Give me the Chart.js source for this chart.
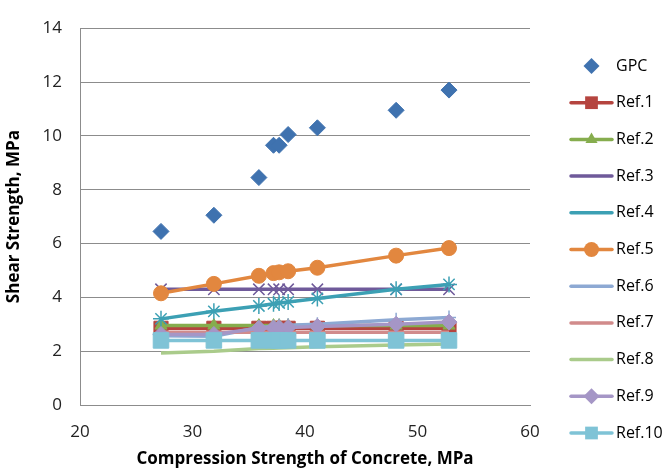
<!DOCTYPE html>
<html>
<head>
<meta charset="utf-8">
<script src="https://cdn.jsdelivr.net/npm/chart.js@4"></script>
<style>
  html, body { margin: 0; padding: 0; background: #fff; }
  #wrap { width: 671px; height: 473px; }
</style>
</head>
<body>
<div id="wrap"><canvas id="shearChart" width="671" height="473"></canvas></div>
<script>
// Compression strength of concrete (MPa) for each specimen
const strength = [27.2, 31.9, 35.9, 37.2, 37.7, 38.5, 41.1, 48.1, 52.8];

// Shear strength (MPa): test results and reference predictions
const gpc   = [6.45, 7.05, 8.45, 9.65, 9.65, 10.05, 10.3, 10.95, 11.7];
const ref1  = [2.85, 2.85, 2.85, 2.85, 2.85, 2.85, 2.85, 2.85, 2.85];
const ref2  = [2.95, 2.95, 2.95, 2.95, 2.95, 2.95, 2.95, 2.95, 2.95];
const ref3  = [4.3, 4.3, 4.3, 4.3, 4.3, 4.3, 4.3, 4.3, 4.3];
const ref4  = [3.2, 3.48, 3.68, 3.76, 3.79, 3.83, 3.96, 4.3, 4.48];
const ref5  = [4.15, 4.5, 4.8, 4.9, 4.93, 4.97, 5.1, 5.55, 5.83];
const ref6  = [2.57, 2.55, 2.88, 2.92, 2.94, 2.96, 3.0, 3.17, 3.25];
const ref7  = [2.7, 2.7, 2.7, 2.7, 2.7, 2.7, 2.7, 2.7, 2.7];
const ref8  = [1.93, 2.0, 2.1, 2.11, 2.12, 2.13, 2.16, 2.23, 2.27];
const ref9  = [2.62, 2.62, 2.85, 2.86, 2.87, 2.88, 2.92, 3.0, 3.08];
const ref10 = [2.4, 2.4, 2.4, 2.4, 2.4, 2.4, 2.4, 2.4, 2.4];

const yTicks = [0, 2, 4, 6, 8, 10, 12, 14];
const xTicks = [20, 30, 40, 50, 60];

const FONT = '"Open Sans", "Noto Sans", sans-serif';

function pts(ys) {
    return strength.map((x, i) => ({ x: x, y: ys[i] }));
}

// name, values, colour, marker, marker radius, line?
const seriesDefs = [
    ['GPC',    gpc,   '#3F72AF', 'rectRot',  8,   false],
    ['Ref.1',  ref1,  '#B5443F', 'rect',     10,  true],
    ['Ref.2',  ref2,  '#86AD4E', 'triangle', 7,   true],
    ['Ref.3',  ref3,  '#6F5A9A', 'crossRot', 8,   true],
    ['Ref.4',  ref4,  '#3CA0B4', 'star',     8,   true],
    ['Ref.5',  ref5,  '#E2873F', 'circle',   7.5, true],
    ['Ref.6',  ref6,  '#8DA9D3', 'cross',    7,   true],
    ['Ref.7',  ref7,  '#D18B8B', false,      0,   true],
    ['Ref.8',  ref8,  '#AACB8B', false,      0,   true],
    ['Ref.9',  ref9,  '#A596C6', 'rectRot',  8,   true],
    ['Ref.10', ref10, '#7FC3D6', 'rect',     11,  true]
];

const thin = (m) => m === 'crossRot' || m === 'star' || m === 'cross';

const datasets = seriesDefs.map((s, i) => ({
    label: s[0],
    data: pts(s[1]),
    showLine: s[5],
    borderColor: s[2],
    backgroundColor: s[2],
    borderWidth: 3.5,
    pointStyle: s[3] || 'circle',
    pointRadius: s[3] ? s[4] : 0,
    pointBorderWidth: thin(s[3]) ? 1.5 : 1,
    pointHoverRadius: s[3] ? s[4] : 0,
    order: seriesDefs.length - i
}));

// Excel-like legend: short line with marker in the middle
const sideLegend = {
    id: 'sideLegend',
    afterDraw(chart) {
        const ctx = chart.ctx;
        const x0 = 571, x1 = 612, top = 66, step = 36.7;
        ctx.save();
        seriesDefs.forEach((s, i) => {
            const y = top + i * step;
            if (s[5]) {
                ctx.strokeStyle = s[2];
                ctx.lineWidth = 3.5;
                ctx.lineCap = 'round';
                ctx.beginPath();
                ctx.moveTo(x0, y);
                ctx.lineTo(x1, y);
                ctx.stroke();
            }
            if (s[3]) {
                ctx.fillStyle = s[2];
                ctx.strokeStyle = s[2];
                ctx.lineWidth = thin(s[3]) ? 1.5 : 1;
                Chart.helpers.drawPoint(ctx, { pointStyle: s[3], radius: Math.min(s[4], 9), rotation: 0 }, (x0 + x1) / 2, y);
            }
            ctx.fillStyle = '#000';
            ctx.font = '16px ' + FONT;
            ctx.textBaseline = 'middle';
            ctx.textAlign = 'left';
            ctx.fillText(s[0], 616, y);
        });
        ctx.restore();
    }
};

const shearChart = new Chart(document.getElementById('shearChart'), {
    type: 'scatter',
    data: { datasets: datasets },
    options: {
        responsive: false,
        animation: false,
        layout: { padding: { top: 18, right: 141, left: 0, bottom: 0 } },
        plugins: {
            legend: { display: false },
            tooltip: { enabled: false }
        },
        scales: {
            x: {
                type: 'linear',
                min: 20,
                max: 60,
                afterBuildTicks: (axis) => { axis.ticks = xTicks.map(v => ({ value: v })); },
                afterFit: (axis) => { axis.height = 68; },
                grid: { display: false, drawTicks: false },
                border: { display: true, color: '#8C8C8C', width: 1 },
                ticks: { color: '#222', padding: 17, font: { family: FONT, size: 17 } },
                title: {
                    display: true,
                    text: 'Compression Strength of Concrete, MPa',
                    color: '#000',
                    font: { family: FONT, size: 17, weight: 'bold' },
                    padding: { top: 7 }
                }
            },
            y: {
                type: 'linear',
                min: 0,
                max: 14,
                afterBuildTicks: (axis) => { axis.ticks = yTicks.map(v => ({ value: v })); },
                afterFit: (axis) => { axis.width = 80; },
                grid: { color: '#8C8C8C', lineWidth: 1, drawTicks: false },
                border: { display: true, color: '#8C8C8C', width: 1 },
                ticks: { color: '#222', padding: 18, font: { family: FONT, size: 17 } },
                title: {
                    display: true,
                    text: 'Shear Strength, MPa',
                    color: '#000',
                    font: { family: FONT, size: 17, weight: 'bold' },
                    padding: { bottom: 2 }
                }
            }
        }
    },
    plugins: [sideLegend]
});
</script>
</body>
</html>
